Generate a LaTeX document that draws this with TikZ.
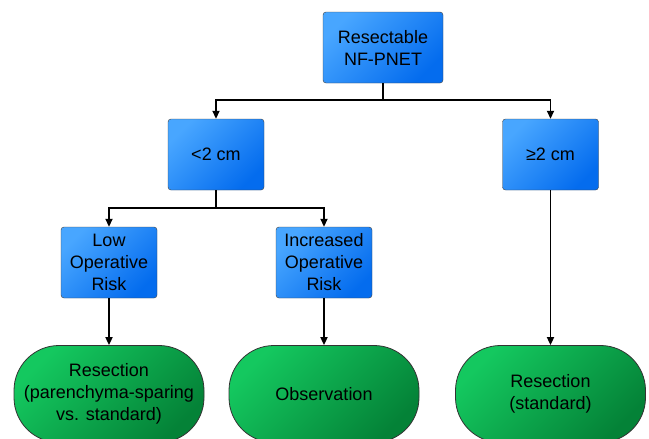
\documentclass[tikz,border=0pt]{standalone}
\usepackage{fontspec}
\setmainfont{Liberation Sans}
\usetikzlibrary{positioning,arrows.meta}
\definecolor{boxlight}{RGB}{72,166,255}
\definecolor{boxdark}{RGB}{4,108,238}
\definecolor{endlight}{RGB}{20,200,95}
\definecolor{enddark}{RGB}{4,130,55}

\begin{document}
\begin{tikzpicture}[x=1pt,y=-1pt
        , decision/.style={draw=black!75
        , rounded corners=3pt
        , minimum width=96pt
        , minimum height=71pt
        , inner sep=1pt
        , top color=boxlight
        , bottom color=boxdark
        , shading angle=45
        , align=center
        , font=\fontsize{18}{22}\selectfont}
        , outcome/.style={draw=black!80
        , line width=0.8pt
        , rounded corners=45pt
        , minimum width=190pt
        , minimum height=97pt
        , inner sep=1pt
        , top color=endlight
        , bottom color=enddark
        , shading angle=45
        , align=center
        , font=\fontsize{18}{22}\selectfont}
        , link/.style={-{Triangle[length=8pt,width=7pt]}, line width=1.8pt}
        ]
        \useasboundingbox (0,0) rectangle (649,439);
        \clip (0,0) rectangle (649,439);
        \fill[white] (0,0) rectangle (649,439);

        \node[decision, minimum width=120pt] (top) at (383,47.5) {Resectable\\NF-PNET};
        \node[decision] (small) at (216,154.5) {<2 cm};
        \node[decision] (large) at (550.5,154.5) {≥2 cm};
        \node[decision] (lowrisk) at (109,262.5) {Low\\Operative\\Risk};
        \node[decision] (highrisk) at (324,262.5) {Increased\\Operative\\Risk};

        \node[outcome] (sparing) at (109,394) {Resection\\(parenchyma-sparing\\vs. standard)};
        \node[outcome] (observe) at (324,394) {Observation};
        \node[outcome] (standard) at (550.5,394) {Resection\\(standard)};

        \draw [link] (top.south) -- ++(0,17) -| (small.north);
        \draw [link] (top.south) -- ++(0,17) -| (large.north);
        \draw [link] (small.south) -- ++(0,18) -| (lowrisk.north);
        \draw [link] (small.south) -- ++(0,18) -| (highrisk.north);
        \draw [link] (lowrisk.south) -- (sparing.north);
        \draw [link] (highrisk.south) -- (observe.north);
        \draw [link] (large.south) -- (standard.north);
    \end{tikzpicture}
\end{document}
